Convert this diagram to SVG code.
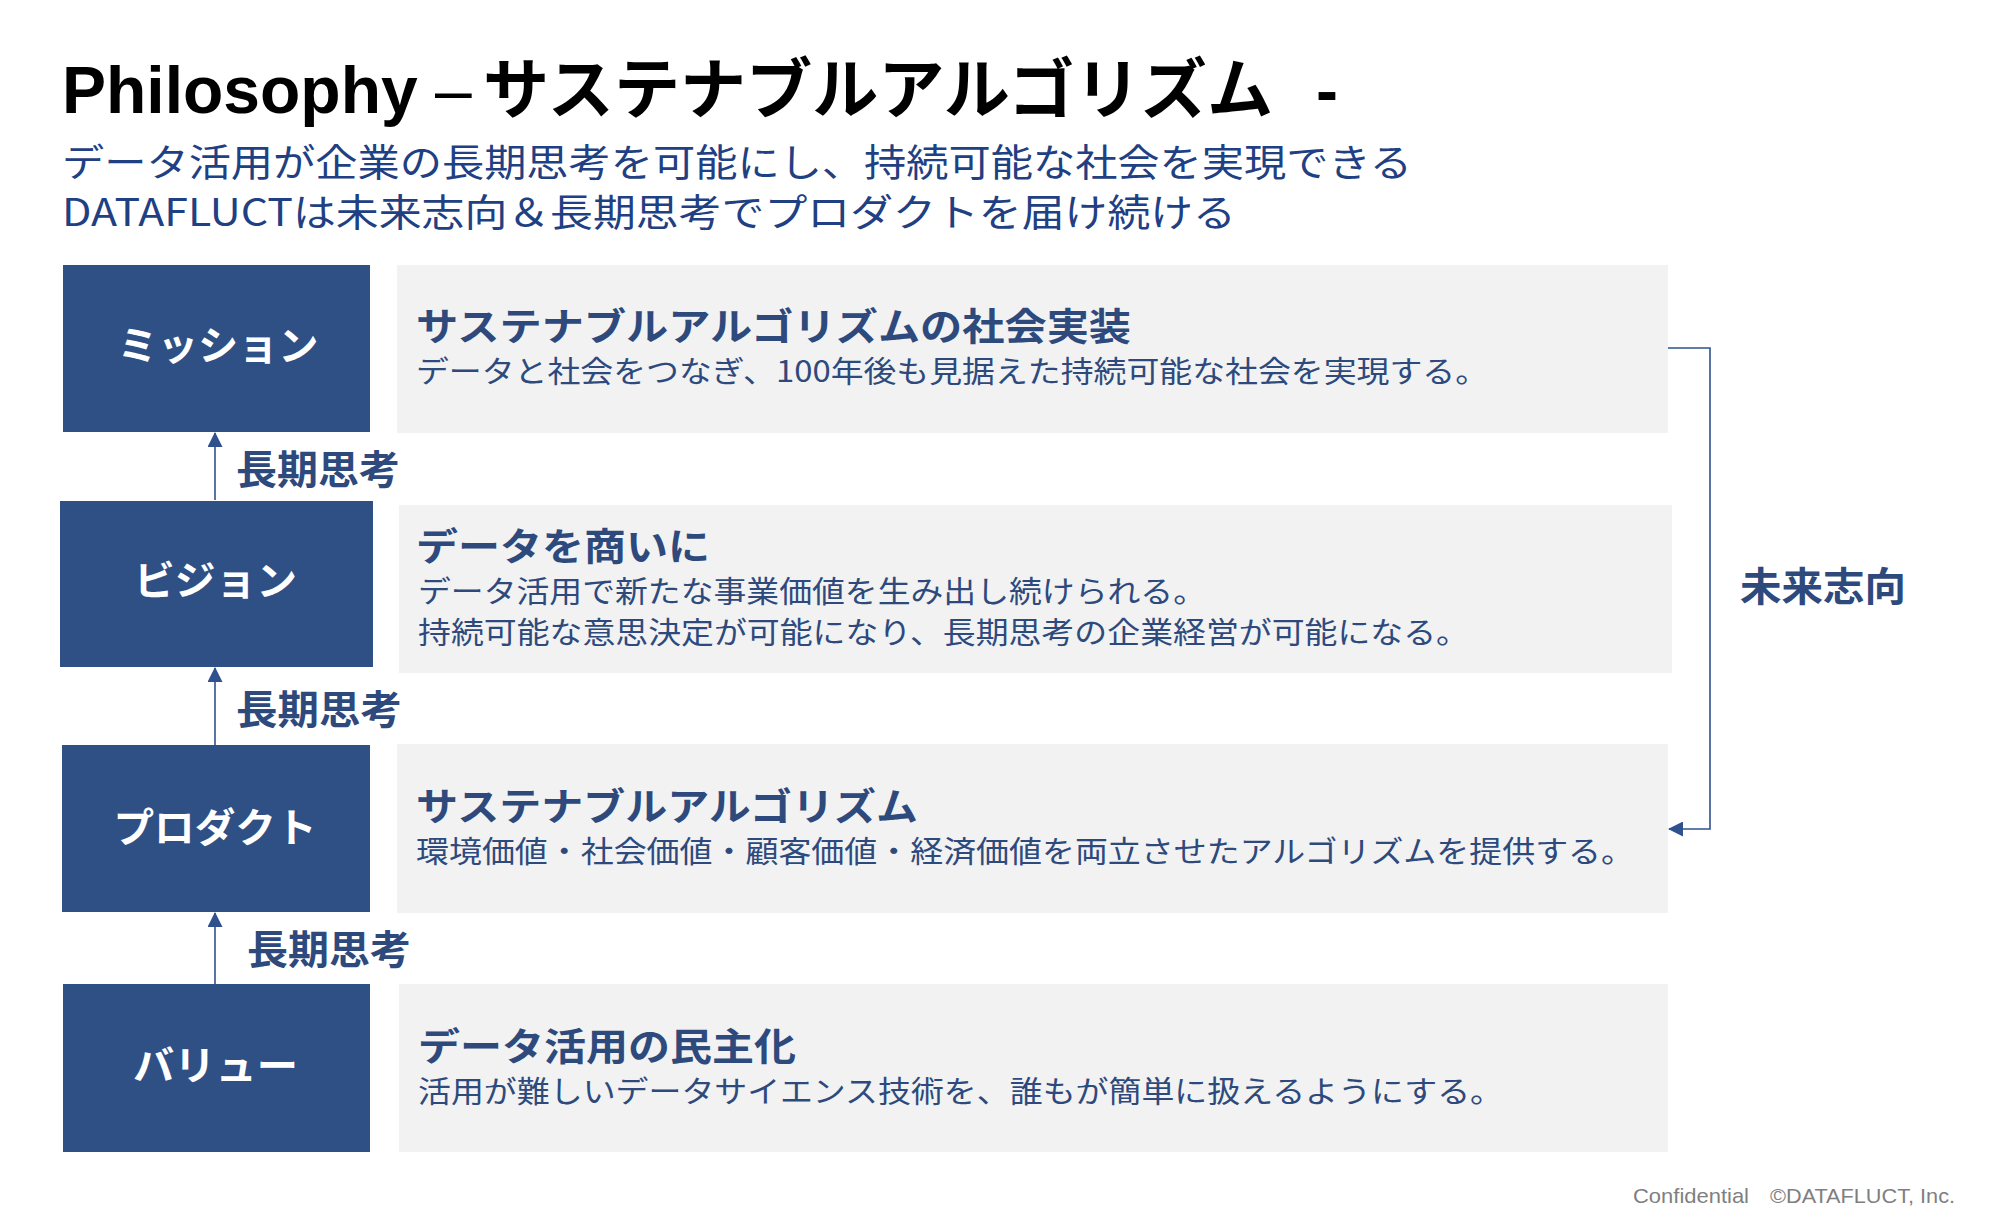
<svg xmlns="http://www.w3.org/2000/svg" width="2000" height="1225" viewBox="0 0 2000 1225">
<style>
.cjk{font-family:"Noto Sans CJK JP","Liberation Sans",sans-serif}
.title{font-family:"Liberation Sans","Noto Sans CJK JP",sans-serif;font-weight:bold;font-size:66px;fill:#000}
.sub{font-size:38px;fill:#1F4082}
.box{fill:#2F5085}
.card{fill:#F2F2F2}
.blab{font-size:40px;font-weight:bold;fill:#fff}
.head{font-size:38px;font-weight:bold;fill:#2E4A7D}
.body{font-size:30px;fill:#2E4A7D}
.lt{font-size:40px;font-weight:bold;fill:#2E4A7D}
.conn{stroke:#2F528F;stroke-width:1.6;fill:none}
.foot{font-family:"Liberation Sans","Noto Sans CJK JP",sans-serif;font-size:21px;fill:#7F7F7F}
</style>
<defs>
<marker id="ah" markerUnits="userSpaceOnUse" markerWidth="15" markerHeight="15" viewBox="0 0 15 15" refX="14" refY="7.5" orient="auto">
<path d="M0,0 L15,7.5 L0,15 Z" fill="#2F528F"/>
</marker>
</defs>
<rect width="2000" height="1225" fill="#fff"/>
<g id="title">
<text class="title" y="113"><tspan x="62">Philosophy</tspan><tspan x="435" font-weight="normal">–</tspan><tspan x="483" class="cjk" textLength="790" lengthAdjust="spacingAndGlyphs">サステナブルアルゴリズム</tspan><tspan x="1316">-</tspan></text>
<text class="cjk sub" x="62" y="176" textLength="1350" lengthAdjust="spacingAndGlyphs">データ活用が企業の長期思考を可能にし、持続可能な社会を実現できる</text>
<text class="cjk sub" x="62" y="226" textLength="1174" lengthAdjust="spacingAndGlyphs">DATAFLUCTは未来志向＆長期思考でプロダクトを届け続ける</text>
</g>
<g id="connectors">
<line class="conn" x1="215" y1="500" x2="215" y2="433" marker-end="url(#ah)"/>
<line class="conn" x1="215" y1="745" x2="215" y2="668" marker-end="url(#ah)"/>
<line class="conn" x1="215" y1="984" x2="215" y2="913" marker-end="url(#ah)"/>
<path class="conn" d="M1668,348 H1710 V829 H1669" stroke-width="2" marker-end="url(#ah)"/>
</g>
<g id="mission">
<rect class="box" x="63" y="265" width="307" height="167"/>
<text class="cjk blab" x="218" y="360" text-anchor="middle" textLength="201" lengthAdjust="spacingAndGlyphs">ミッション</text>
<rect class="card" x="397" y="265" width="1271" height="168"/>
<text class="cjk head" x="416" y="340" textLength="715" lengthAdjust="spacingAndGlyphs">サステナブルアルゴリズムの社会実装</text>
<text class="cjk body" x="416" y="382" textLength="1072" lengthAdjust="spacingAndGlyphs">データと社会をつなぎ、100年後も見据えた持続可能な社会を実現する。</text>
</g>
<g id="vision">
<rect class="box" x="60" y="501" width="313" height="166"/>
<text class="cjk blab" x="215.5" y="595" text-anchor="middle" textLength="163" lengthAdjust="spacingAndGlyphs">ビジョン</text>
<rect class="card" x="399" y="505" width="1273" height="168"/>
<text class="cjk head" x="416" y="560" textLength="294" lengthAdjust="spacingAndGlyphs">データを商いに</text>
<text class="cjk body" x="418" y="602" textLength="788" lengthAdjust="spacingAndGlyphs">データ活用で新たな事業価値を生み出し続けられる。</text>
<text class="cjk body" x="418" y="643" textLength="1051" lengthAdjust="spacingAndGlyphs">持続可能な意思決定が可能になり、長期思考の企業経営が可能になる。</text>
</g>
<g id="product">
<rect class="box" x="62" y="745" width="308" height="167"/>
<text class="cjk blab" x="215" y="842" text-anchor="middle" textLength="203" lengthAdjust="spacingAndGlyphs">プロダクト</text>
<rect class="card" x="397" y="744" width="1271" height="169"/>
<text class="cjk head" x="416" y="820" textLength="502" lengthAdjust="spacingAndGlyphs">サステナブルアルゴリズム</text>
<text class="cjk body" x="416" y="862" textLength="1218" lengthAdjust="spacingAndGlyphs">環境価値・社会価値・顧客価値・経済価値を両立させたアルゴリズムを提供する。</text>
</g>
<g id="value">
<rect class="box" x="63" y="984" width="307" height="168"/>
<text class="cjk blab" x="215.5" y="1080" text-anchor="middle" textLength="165" lengthAdjust="spacingAndGlyphs">バリュー</text>
<rect class="card" x="399" y="984" width="1269" height="168"/>
<text class="cjk head" x="418" y="1060" textLength="378" lengthAdjust="spacingAndGlyphs">データ活用の民主化</text>
<text class="cjk body" x="418" y="1102" textLength="1085" lengthAdjust="spacingAndGlyphs">活用が難しいデータサイエンス技術を、誰もが簡単に扱えるようにする。</text>
</g>
<g id="labels">
<text class="cjk lt" x="236" y="484" textLength="164" lengthAdjust="spacingAndGlyphs">長期思考</text>
<text class="cjk lt" x="236" y="724" textLength="166" lengthAdjust="spacingAndGlyphs">長期思考</text>
<text class="cjk lt" x="247" y="964" textLength="164" lengthAdjust="spacingAndGlyphs">長期思考</text>
<text class="cjk lt" x="1740" y="601" textLength="166" lengthAdjust="spacingAndGlyphs">未来志向</text>
</g>
<g id="footer">
<text class="foot" y="1203"><tspan x="1633" textLength="116" lengthAdjust="spacingAndGlyphs">Confidential</tspan><tspan x="1770" textLength="185" lengthAdjust="spacingAndGlyphs">©DATAFLUCT, Inc.</tspan></text>
</g>
</svg>
